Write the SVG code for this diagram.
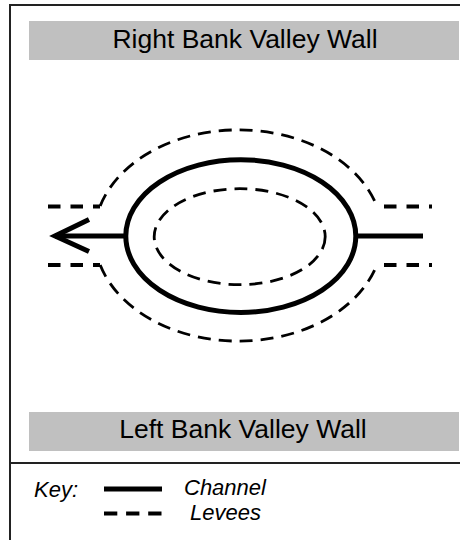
<svg xmlns="http://www.w3.org/2000/svg" width="460" height="540" viewBox="0 0 460 540">
  <style>
    .wall { fill: #c0c0c0; }
    .wall-text { font-family: "Liberation Sans", Arial, sans-serif; font-size: 26.5px; fill: #000; text-anchor: middle; }
    .key-text { font-family: "Liberation Sans", Arial, sans-serif; font-size: 22px; font-style: italic; fill: #000; }
    .channel { fill: none; stroke: #000; stroke-width: 5; }
    .levee { fill: none; stroke: #000; stroke-width: 2.8; stroke-dasharray: 13 8; }
    .levee-straight { fill: none; stroke: #000; stroke-width: 4; stroke-dasharray: 12.5 10; }
    .frame { fill: none; stroke: #222; stroke-width: 2; }
  </style>
  <rect width="460" height="540" fill="#fff"/>
  <g id="frame">
    <line class="frame" x1="10" y1="5" x2="460" y2="5"/>
    <line class="frame" x1="10" y1="4" x2="10" y2="540"/>
    <line class="frame" x1="10" y1="463" x2="460" y2="463"/>
  </g>
  <g id="right-bank-wall">
    <rect class="wall" x="29" y="21" width="430" height="39"/>
    <text class="wall-text" x="245" y="48">Right Bank Valley Wall</text>
  </g>
  <g id="left-bank-wall">
    <rect class="wall" x="29" y="412" width="430" height="39"/>
    <text class="wall-text" x="243" y="438">Left Bank Valley Wall</text>
  </g>
  <g id="channel">
    <ellipse class="channel" cx="240.8" cy="236.1" rx="115" ry="76.4"/>
  </g>
  <g id="levees">
    <path class="levee" d="M100.2,206 A144,105.5 0 0 1 376.8,206"/>
    <path class="levee" d="M100.2,265 A144,105.5 0 0 0 376.8,265"/>
    <ellipse class="levee" cx="239.7" cy="236.7" rx="85.5" ry="48"/>
    <line class="levee-straight" x1="48" y1="206.5" x2="100" y2="206.5"/>
    <line class="levee-straight" x1="48" y1="265" x2="100" y2="265"/>
    <line class="levee-straight" x1="384" y1="206.5" x2="432" y2="206.5"/>
    <line class="levee-straight" x1="384" y1="265" x2="432" y2="265"/>
  </g>
  <g id="connectors">
    <line class="channel" x1="423" y1="236" x2="355.8" y2="236"/>
    <line class="channel" x1="125.8" y1="236" x2="55" y2="236"/>
    <polyline class="channel" points="89,219.5 55,236 89,251.5"/>
  </g>
  <g id="key">
    <text class="key-text" x="34" y="497">Key:</text>
    <line x1="104" y1="489" x2="162" y2="489" stroke="#000" stroke-width="5"/>
    <line x1="104" y1="513.5" x2="162" y2="513.5" stroke="#000" stroke-width="4" stroke-dasharray="13.3 8.8"/>
    <text class="key-text" x="184" y="495">Channel</text>
    <text class="key-text" x="190" y="520">Levees</text>
  </g>
</svg>
